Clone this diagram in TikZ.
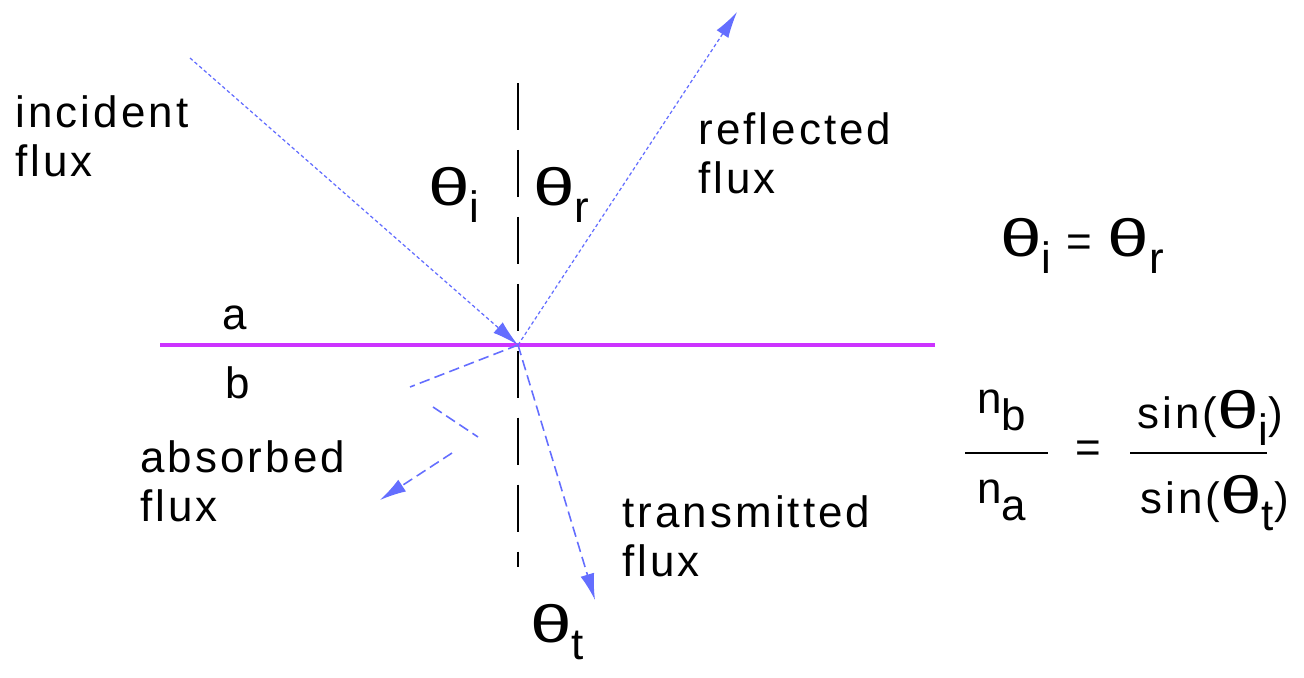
\documentclass[tikz,border=0pt]{standalone}
\usepackage{fontspec}
\usepackage{graphicx}
\setmainfont[LetterSpace=7]{Liberation Sans}
\usetikzlibrary{arrows.meta}

\definecolor{fluxblue}{RGB}{100,110,255}
\definecolor{boundary}{RGB}{204,51,255}

\newcommand{\angsub}[1]{\scalebox{1.7}[1.2]{θ}\raisebox{-10pt}{#1}}
\newcommand{\idxsub}[2]{#1\raisebox{-10pt}{#2}}

\tikzset{
  lbl/.style={font=\fontsize{25}{28}\selectfont, inner sep=0pt},
  ray/.style={fluxblue, line width=0.7pt, dash pattern=on 2pt off 1.5pt},
  rayd/.style={fluxblue, line width=0.9pt, dash pattern=on 6pt off 3pt},
  normal/.style={black, line width=1.1pt, dash pattern=on 26.7pt off 11.4pt},
  bar/.style={black, line width=1.2pt}
}

\begin{document}
\begin{tikzpicture}[x=0.02cm, y=-0.02cm, >={Latex[length=15pt,width=8pt]}]

    \useasboundingbox (0,0) rectangle (1304,677);

    % 1. Punti di riferimento
    \coordinate (O) at (518,345);
    \coordinate (src) at (190,58);
    \coordinate (refl) at (737,12);
    \coordinate (trans) at (595,600);
    \coordinate (nrmtop) at (518,83);
    \coordinate (nrmbot) at (518,567);
    \coordinate (surfL) at (160,345);
    \coordinate (surfR) at (935,345);

    % 2. Superficie di separazione e normale
    \draw[boundary, line width=2.6pt] (surfL) -- (surfR);
    \draw[normal] (nrmtop) -- (nrmbot);

    % 3. Raggi incidente, riflesso, trasmesso
    \draw[ray, ->] (src) -- (O);
    \draw[ray, ->] (O) -- (refl);
    \draw[rayd, ->] (O) -- (trans);

    % 4. Flusso assorbito (zig-zag)
    \coordinate (ab1) at (410,387);
    \coordinate (ab2) at (433,407);
    \coordinate (ab3) at (478,437);
    \coordinate (ab4) at (452,453);
    \coordinate (ab5) at (380,500);
    \draw[rayd] (O) -- (ab1);
    \draw[rayd] (ab2) -- (ab3);
    \draw[rayd, ->] (ab4) -- (ab5);

    % 5. Etichette
    \node[lbl, anchor=north west, align=left] (incident) at (15,95) {incident\\flux};
    \node[lbl, anchor=north west, align=left] (reflected) at (698,112) {reflected\\flux};
    \node[lbl, anchor=north west, align=left] (absorbed) at (140,440) {absorbed\\flux};
    \node[lbl, anchor=north west, align=left] (transmitted) at (622,495) {transmitted\\flux};
    \node[lbl, anchor=base west] (mediuma) at (222,329) {a};
    \node[lbl, anchor=base west] (mediumb) at (225,398) {b};

    \node[lbl, anchor=base west] (thi) at (428,205) {\angsub{i}};
    \node[lbl, anchor=base west] (thr) at (533,205) {\angsub{r}};
    \node[lbl, anchor=base west] (tht) at (530,642) {\angsub{t}};

    % 6. Leggi
    \node[lbl, anchor=base west] (reflaw) at (1000,256) {\angsub{i} = \angsub{r}};

    \node[lbl, anchor=base west] (nb) at (977,413) {\idxsub{n}{b}};
    \node[lbl, anchor=base west] (na) at (977,503) {\idxsub{n}{a}};
    \draw[bar] (965,453) -- (1048,453);
    \node[lbl] (eq) at (1088,452) {=};
    \node[lbl, anchor=base west] (sini) at (1137,428) {sin(\angsub{i})};
    \node[lbl, anchor=base west] (sint) at (1140,513) {sin(\angsub{t})};
    \draw[bar] (1130,453) -- (1267,453);

\end{tikzpicture}
\end{document}
